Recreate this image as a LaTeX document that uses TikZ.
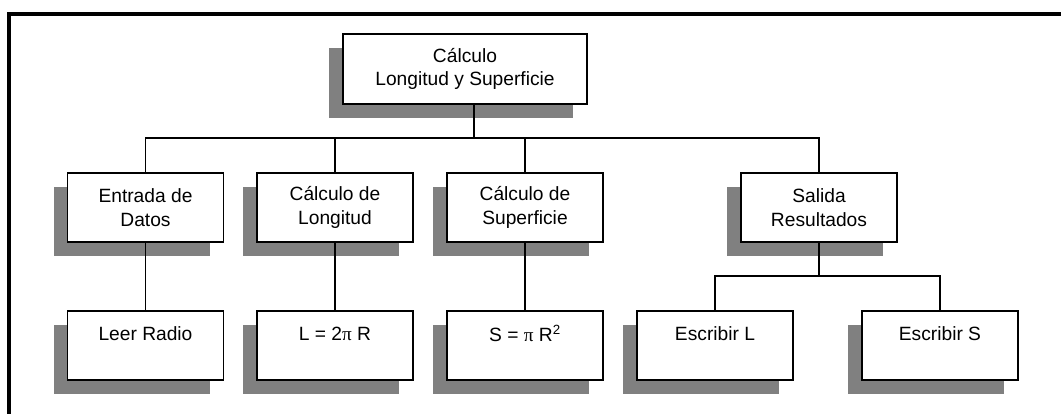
\documentclass[tikz,border=0pt]{standalone}
\usepackage{fontspec}
\setmainfont{Liberation Sans}
\newfontfamily\grk{Liberation Serif}
\usetikzlibrary{shadows,calc}
\definecolor{shade}{HTML}{808080}
\begin{document}
\begin{tikzpicture}[x=0.75pt,y=-0.75pt,
  box/.style={draw=black, line width=1.1pt, fill=white,
    minimum width=117pt, minimum height=51.75pt, inner sep=0pt,
    align=center, font=\fontsize{14.4}{17.8}\selectfont,
    drop shadow={shadow xshift=-10.5pt, shadow yshift=-10.5pt, fill=shade, opacity=1}},
  topbox/.style={box, minimum width=183pt, minimum height=52.5pt},
  link/.style={line width=1pt},
  frame/.style={line width=3pt, line join=miter}]
\useasboundingbox (0,0) rectangle (1061,414);
\draw[frame] (9,414) -- (9,14) -- (1061,14);

\node[topbox] (top) at (465,69) {Cálculo\\Longitud y Superficie};

\node[box] (e1) at (145.5,207.5) {Entrada de\\Datos};
\node[box] (c1) at (335,207.5) {Cálculo de\\Longitud};
\node[box] (s1) at (525,207.5) {Cálculo de\\Superficie};
\node[box] (o1) at (819,207.5) {Salida\\Resultados};

\node[box] (e2) at (145.5,345.5) {Leer Radio\\~};
\node[box] (c2) at (335,345.5) {L = 2{\grk π} R\\~};
\node[box] (s2) at (525,345.5) {S = {\grk π} R\textsuperscript{2}\\~};
\node[box] (w1) at (715,345.5) {Escribir L\\~};
\node[box] (w2) at (940,345.5) {Escribir S\\~};

\coordinate (tb) at (474,138);
\coordinate (sb) at (819,276);
\draw[link] (top.south -| tb) -- (tb);
\draw[link] (e1.north) |- (tb) -| (o1.north);
\draw[link] (c1.north) -- (c1.north |- tb);
\draw[link] (s1.north) -- (s1.north |- tb);

\draw[link] (e1.south) -- (e2.north);
\draw[link] (c1.south) -- (c2.north);
\draw[link] (s1.south) -- (s2.north);
\draw[link] (o1.south) -- (sb);
\draw[link] (w1.north) |- (sb) -| (w2.north);
\end{tikzpicture}
\end{document}
